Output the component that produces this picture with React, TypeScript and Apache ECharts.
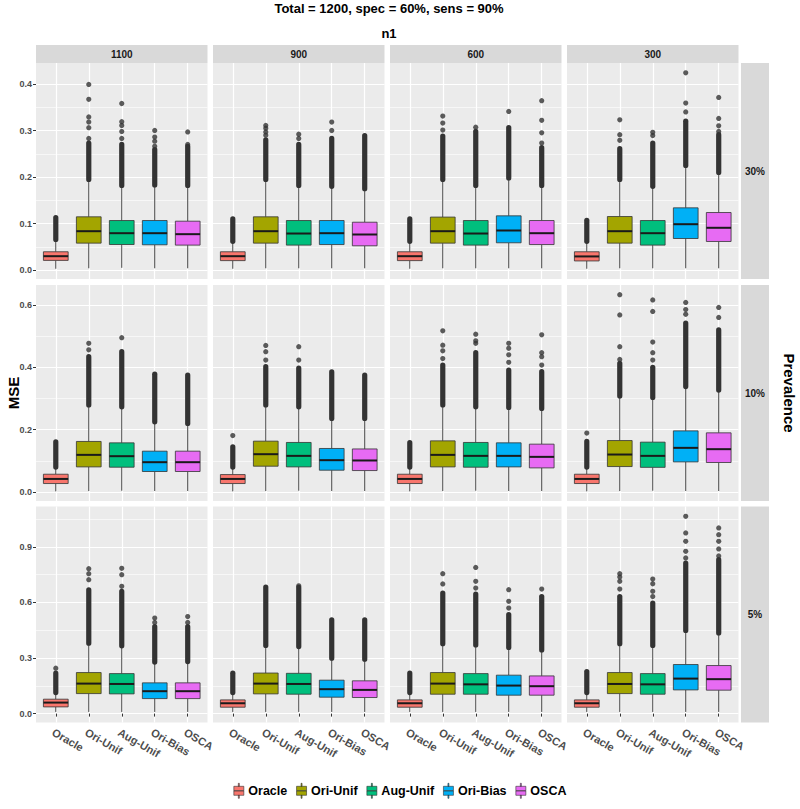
import React, { useEffect, useRef } from 'react';
import * as echarts from 'echarts';

// ---------- categories ----------
const methods = ['Oracle', 'Ori-Unif', 'Aug-Unif', 'Ori-Bias', 'OSCA'];
const methodColors = ['#F8766D', '#A3A500', '#00BF7D', '#00B0F6', '#E76BF3'];
const n1Levels = ['1100', '900', '600', '300'];
const prevalenceLevels = ['30%', '10%', '5%'];

// ---------- y axes per prevalence row ----------
const yMin = [-0.019, -0.029, -0.048];
const yMax = [0.445, 0.664, 1.118];
const ySplit = [4, 3, 4];
const yTicks30 = [0, 0.1, 0.2, 0.3, 0.4];
const yTicks10 = [0, 0.2, 0.4, 0.6];
const yTicks5 = [0, 0.3, 0.6, 0.9];
const yTicks = [yTicks30, yTicks10, yTicks5];

// ---------- box stats: [lower whisker, Q1, median, Q3, upper whisker] per method ----------
// dense outlier band: [from, to]; sparse outliers listed individually
// Prevalence 30%
const box30_1100 = [[0.003, 0.021, 0.030, 0.0395, 0.064], [0.004, 0.058, 0.0837, 0.1146, 0.192], [0.005, 0.0551, 0.0794, 0.1066, 0.180], [0.004, 0.0545, 0.0794, 0.1066, 0.181], [0.004, 0.0538, 0.0773, 0.1052, 0.180]];
const dense30_1100 = [[0.066, 0.113], [0.195, 0.273], [0.182, 0.270], [0.183, 0.259], [0.182, 0.266]];
const sparse30_1100 = [[], [0.283, 0.306, 0.318, 0.329, 0.367, 0.399], [0.283, 0.298, 0.311, 0.319, 0.358], [0.266, 0.277, 0.286, 0.300], [0.270, 0.297]];

const box30_900 = [[0.003, 0.0205, 0.030, 0.0395, 0.060], [0.004, 0.058, 0.0837, 0.1146, 0.192], [0.004, 0.0538, 0.0787, 0.1066, 0.180], [0.004, 0.055, 0.0794, 0.1066, 0.178], [0.004, 0.0523, 0.0766, 0.103, 0.173]];
const dense30_900 = [[0.062, 0.110], [0.195, 0.280], [0.182, 0.270], [0.180, 0.283], [0.175, 0.289]];
const sparse30_900 = [[], [0.290, 0.297, 0.305, 0.311], [0.283, 0.292], [0.300, 0.318], []];

const box30_600 = [[0.003, 0.0205, 0.030, 0.0395, 0.060], [0.004, 0.058, 0.0837, 0.114, 0.192], [0.004, 0.0538, 0.0787, 0.1066, 0.180], [0.004, 0.0588, 0.0852, 0.1167, 0.196], [0.004, 0.055, 0.0794, 0.1066, 0.180]];
const dense30_600 = [[0.062, 0.110], [0.195, 0.288], [0.182, 0.298], [0.198, 0.306], [0.182, 0.263]];
const sparse30_600 = [[], [0.301, 0.316, 0.331], [0.307], [0.341], [0.273, 0.295, 0.322, 0.364]];

const box30_300 = [[0.003, 0.0198, 0.0295, 0.0395, 0.060], [0.004, 0.058, 0.0837, 0.1152, 0.192], [0.004, 0.0538, 0.0794, 0.1066, 0.178], [0.004, 0.068, 0.0987, 0.1339, 0.223], [0.004, 0.0616, 0.091, 0.1238, 0.208]];
const dense30_300 = [[0.062, 0.107], [0.195, 0.261], [0.180, 0.273], [0.225, 0.320], [0.210, 0.291]];
const sparse30_300 = [[], [0.279, 0.291, 0.323], [0.289, 0.296], [0.340, 0.359, 0.424], [0.298, 0.310, 0.326, 0.371]];

// Prevalence 10%
const box10_1100 = [[0.002, 0.027, 0.0418, 0.0569, 0.078], [0.003, 0.0804, 0.119, 0.162, 0.276], [0.004, 0.0794, 0.1148, 0.1576, 0.270], [0.003, 0.0656, 0.0955, 0.1309, 0.222], [0.003, 0.0656, 0.0955, 0.1309, 0.218]];
const dense10_1100 = [[0.080, 0.161], [0.279, 0.434], [0.273, 0.450], [0.225, 0.378], [0.220, 0.375]];
const sparse10_1100 = [[], [0.456, 0.477], [0.495], [], []];

const box10_900 = [[0.002, 0.027, 0.0418, 0.0558, 0.078], [0.003, 0.0826, 0.1212, 0.163, 0.276], [0.004, 0.0804, 0.1158, 0.1588, 0.270], [0.003, 0.0698, 0.102, 0.1395, 0.233], [0.003, 0.0687, 0.101, 0.138, 0.233]];
const dense10_900 = [[0.080, 0.145], [0.279, 0.402], [0.273, 0.397], [0.236, 0.385], [0.236, 0.375]];
const sparse10_900 = [[0.181], [0.423, 0.450, 0.470], [0.423, 0.466], [], []];

const box10_600 = [[0.002, 0.027, 0.0418, 0.0569, 0.078], [0.003, 0.0804, 0.119, 0.164, 0.276], [0.004, 0.0794, 0.1158, 0.1588, 0.270], [0.003, 0.0804, 0.1158, 0.1576, 0.268], [0.003, 0.0772, 0.1126, 0.1534, 0.265]];
const dense10_600 = [[0.080, 0.158], [0.279, 0.407], [0.273, 0.447], [0.271, 0.391], [0.268, 0.386]];
const sparse10_600 = [[], [0.428, 0.453, 0.471, 0.517], [0.477, 0.485, 0.506], [0.416, 0.440, 0.461, 0.477], [0.407, 0.434, 0.447, 0.504]];

const box10_300 = [[0.002, 0.027, 0.0418, 0.0569, 0.078], [0.003, 0.0815, 0.1201, 0.165, 0.305], [0.004, 0.079, 0.1158, 0.1598, 0.300], [0.003, 0.0965, 0.1415, 0.196, 0.335], [0.003, 0.0945, 0.1373, 0.1897, 0.325]];
const dense10_300 = [[0.080, 0.162], [0.308, 0.413], [0.303, 0.400], [0.338, 0.542], [0.327, 0.520]];
const sparse10_300 = [[0.189], [0.425, 0.466, 0.568, 0.633], [0.423, 0.447, 0.481, 0.579, 0.616], [0.570, 0.585, 0.608], [0.560, 0.592]];

// Prevalence 5%
const box5_1100 = [[0.009, 0.0362, 0.0595, 0.0778, 0.111], [0.009, 0.108, 0.162, 0.2216, 0.377], [0.009, 0.1065, 0.160, 0.216, 0.363], [0.009, 0.081, 0.121, 0.166, 0.275], [0.009, 0.081, 0.121, 0.166, 0.278]];
const dense5_1100 = [[0.1135, 0.218], [0.380, 0.668], [0.366, 0.660], [0.278, 0.470], [0.281, 0.470]];
const sparse5_1100 = [[0.245], [0.723, 0.755, 0.782], [0.687, 0.750, 0.784], [0.492, 0.516], [0.492, 0.524]];

const box5_900 = [[0.009, 0.0345, 0.0559, 0.074, 0.111], [0.009, 0.1065, 0.162, 0.219, 0.365], [0.009, 0.1047, 0.160, 0.2175, 0.359], [0.009, 0.0886, 0.1319, 0.1805, 0.297], [0.009, 0.0868, 0.128, 0.177, 0.291]];
const dense5_900 = [[0.1135, 0.218], [0.368, 0.683], [0.362, 0.681], [0.2995, 0.5065], [0.294, 0.5065]];
const sparse5_900 = [[], [], [0.690], [], []];

const box5_600 = [[0.009, 0.0345, 0.0559, 0.074, 0.111], [0.009, 0.1047, 0.162, 0.2216, 0.374], [0.009, 0.1047, 0.158, 0.216, 0.368], [0.009, 0.0995, 0.1514, 0.2075, 0.354], [0.009, 0.0995, 0.148, 0.2035, 0.341]];
const dense5_600 = [[0.1135, 0.218], [0.377, 0.651], [0.371, 0.645], [0.357, 0.534], [0.344, 0.632]];
const sparse5_600 = [[], [0.700, 0.755], [0.678, 0.714, 0.789], [0.570, 0.606, 0.669], [0.672]];

const box5_300 = [[0.009, 0.0345, 0.0559, 0.074, 0.111], [0.009, 0.108, 0.160, 0.2216, 0.374], [0.009, 0.1047, 0.158, 0.216, 0.365], [0.009, 0.128, 0.189, 0.265, 0.446], [0.009, 0.1265, 0.186, 0.2595, 0.432]];
const dense5_300 = [[0.1135, 0.227], [0.377, 0.632], [0.368, 0.597], [0.449, 0.813], [0.435, 0.831]];
const sparse5_300 = [[], [0.672, 0.714, 0.737, 0.755], [0.632, 0.660, 0.701, 0.726], [0.840, 0.876, 0.930, 0.975, 1.065], [0.851, 0.889, 0.930, 0.966, 1.002]];

const panels = [
  { row: 0, col: 0, box: box30_1100, dense: dense30_1100, sparse: sparse30_1100 },
  { row: 0, col: 1, box: box30_900, dense: dense30_900, sparse: sparse30_900 },
  { row: 0, col: 2, box: box30_600, dense: dense30_600, sparse: sparse30_600 },
  { row: 0, col: 3, box: box30_300, dense: dense30_300, sparse: sparse30_300 },
  { row: 1, col: 0, box: box10_1100, dense: dense10_1100, sparse: sparse10_1100 },
  { row: 1, col: 1, box: box10_900, dense: dense10_900, sparse: sparse10_900 },
  { row: 1, col: 2, box: box10_600, dense: dense10_600, sparse: sparse10_600 },
  { row: 1, col: 3, box: box10_300, dense: dense10_300, sparse: sparse10_300 },
  { row: 2, col: 0, box: box5_1100, dense: dense5_1100, sparse: sparse5_1100 },
  { row: 2, col: 1, box: box5_900, dense: dense5_900, sparse: sparse5_900 },
  { row: 2, col: 2, box: box5_600, dense: dense5_600, sparse: sparse5_600 },
  { row: 2, col: 3, box: box5_300, dense: dense5_300, sparse: sparse5_300 },
];

// ---------- layout ----------
const FONT = '"Liberation Sans", Arial, Helvetica, sans-serif';
const colLeft = [36, 213, 390, 567];
const rowTop = [63, 285, 506.5];
const panelW = 171.5;
const panelH = 216;
const xTickValues = [1, 2, 3, 4, 5];

function renderBox(params: any, api: any) {
  const x = api.value(0);
  const yOf = (v: number) => api.coord([x, v])[1];
  const cx = api.coord([x, api.value(3)])[0];
  const yLow = yOf(api.value(1));
  const yQ1 = yOf(api.value(2));
  const yMed = yOf(api.value(3));
  const yQ3 = yOf(api.value(4));
  const yHigh = yOf(api.value(5));
  const yFrom = yOf(api.value(6));
  const yTo = yOf(api.value(7));
  const half = api.size([0.75, 0])[0] / 2;
  const color = api.visual('color');
  const r = 2.6;
  return {
    type: 'group',
    children: [
      { type: 'line', shape: { x1: cx, y1: yLow, x2: cx, y2: yQ1 }, style: { stroke: '#444', lineWidth: 1 } },
      { type: 'line', shape: { x1: cx, y1: yQ3, x2: cx, y2: yHigh }, style: { stroke: '#444', lineWidth: 1 } },
      { type: 'rect', shape: { x: cx - half, y: yQ3, width: half * 2, height: yQ1 - yQ3 }, style: { fill: color, stroke: '#333', lineWidth: 0.8 } },
      { type: 'line', shape: { x1: cx - half, y1: yMed, x2: cx + half, y2: yMed }, style: { stroke: '#1a1a1a', lineWidth: 2 } },
      { type: 'rect', shape: { x: cx - r, y: yTo - r, width: r * 2, height: yFrom - yTo + 2 * r, r }, style: { fill: '#333' } },
    ],
  };
}

export default function App() {
  const ref = useRef<HTMLDivElement>(null);
  useEffect(() => {
    document.body.style.margin = '0';
    if (!ref.current) return;
    const chart = echarts.init(ref.current, undefined, { renderer: 'svg' });

    const grids: any[] = [];
    const xAxes: any[] = [];
    const yAxes: any[] = [];
    const series: any[] = [];

    panels.forEach((p, i) => {
      const bottomRow = p.row === 2;
      const leftCol = p.col === 0;
      grids.push({
        left: colLeft[p.col], top: rowTop[p.row], width: panelW, height: panelH,
        show: true, backgroundColor: '#EBEBEB', borderWidth: 0, containLabel: false,
      });
      xAxes.push({
        type: 'value', gridIndex: i, min: 0.4, max: 5.6, splitNumber: 5,
        axisLine: { show: false },
        axisTick: { show: bottomRow, length: 3, lineStyle: { color: '#333' }, customValues: xTickValues },
        axisLabel: {
          show: bottomRow, customValues: xTickValues, rotate: -30, margin: 4,
          align: 'left', verticalAlign: 'top',
          fontSize: 11, fontWeight: 'bold', color: '#4d4d4d', fontFamily: FONT,
          formatter: (v: number) => methods[Math.round(v) - 1] || '',
        },
        splitLine: { show: true, lineStyle: { color: '#FFFFFF', width: 1.2 } },
      });
      yAxes.push({
        type: 'value', gridIndex: i, min: yMin[p.row], max: yMax[p.row], splitNumber: ySplit[p.row],
        axisLine: { show: false },
        axisTick: { show: leftCol, length: 3, lineStyle: { color: '#333' }, customValues: yTicks[p.row] },
        axisLabel: {
          show: leftCol, customValues: yTicks[p.row], margin: 4,
          fontSize: 9, fontWeight: 'bold', color: '#4d4d4d', fontFamily: FONT,
          formatter: (v: number) => v.toFixed(1),
        },
        splitLine: { show: true, lineStyle: { color: '#FFFFFF', width: 1.2 } },
        minorTick: { show: false, splitNumber: 2 },
        minorSplitLine: { show: true, lineStyle: { color: '#FFFFFF', width: 0.6 } },
      });
      methods.forEach((m, k) => {
        series.push({
          type: 'custom', name: m, xAxisIndex: i, yAxisIndex: i,
          itemStyle: { color: methodColors[k] },
          renderItem: renderBox,
          encode: { x: 0, y: [1, 2, 3, 4, 5, 6, 7] },
          data: [[k + 1, ...p.box[k], ...p.dense[k]]],
          silent: true, z: 2,
        });
      });
      const pts: number[][] = [];
      p.sparse.forEach((vals, k) => vals.forEach((v) => pts.push([k + 1, v])));
      series.push({
        type: 'scatter', xAxisIndex: i, yAxisIndex: i, symbol: 'circle', symbolSize: 5.2,
        itemStyle: { color: '#333333' }, data: pts, silent: true, z: 3,
      });
    });

    const graphics: any[] = [];
    const txt = (text: string, x: number, y: number, size: number, rotation = 0, color = '#000') => ({
      type: 'text', x, y, rotation,
      style: {
        text, fill: color, fontSize: size, fontWeight: 'bold', fontFamily: FONT,
        textAlign: 'center', textVerticalAlign: 'middle', align: 'center', verticalAlign: 'middle',
      },
    });
    graphics.push(txt('Total = 1200, spec = 60%, sens = 90%', 389, 8, 13));
    graphics.push(txt('n1', 389, 33, 13));
    n1Levels.forEach((lab, c) => {
      graphics.push({ type: 'rect', shape: { x: colLeft[c], y: 45, width: panelW, height: 18 }, style: { fill: '#D9D9D9' } });
      graphics.push(txt(lab, colLeft[c] + panelW / 2, 54, 10, 0, '#1a1a1a'));
    });
    prevalenceLevels.forEach((lab, r) => {
      graphics.push({ type: 'rect', shape: { x: 741, y: rowTop[r], width: 28, height: panelH }, style: { fill: '#D9D9D9' } });
      graphics.push(txt(lab, 755, rowTop[r] + panelH / 2, 10, 0, '#1a1a1a'));
    });
    graphics.push(txt('MSE', 13, 393, 15, Math.PI / 2));
    graphics.push(txt('Prevalence', 789, 393, 15, -Math.PI / 2));

    chart.setOption({
      animation: false,
      backgroundColor: '#FFFFFF',
      grid: grids,
      xAxis: xAxes,
      yAxis: yAxes,
      series,
      graphic: graphics,
      legend: {
        data: methods, left: 'center', top: 778, orient: 'horizontal',
        icon: 'path://M4.5,0h1v3h-1z M0,3h10v4.4h-10z M0,7.6h10v4.4h-10z M4.5,12h1v3h-1z',
        itemWidth: 11, itemHeight: 15, itemGap: 9,
        itemStyle: { borderColor: '#333', borderWidth: 0.6 },
        textStyle: { fontSize: 12.5, fontWeight: 'bold', color: '#000', fontFamily: FONT, padding: [0, 0, 0, -1] },
        selectedMode: false,
      },
    });
    return () => chart.dispose();
  }, []);
  return <div ref={ref} style={{ width: 800, height: 809 }} />;
}
